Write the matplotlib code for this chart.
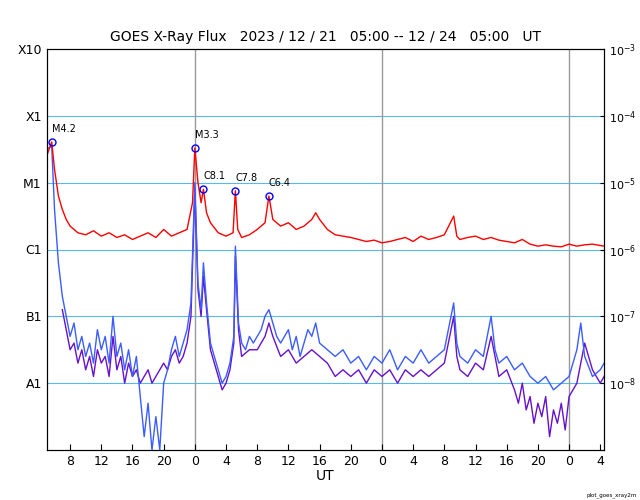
import matplotlib
matplotlib.use("Agg")
import matplotlib.pyplot as plt
import numpy as np

# hours since 2023-12-21 00:00 UT, log10 flux (W/m^2)
red_t = [5.0,5.64,6.0,6.5,7,7.5,8,9,10,11,12,13,14,15,16,17,18,19,20,21,22,23,23.7,24.0,24.4,24.8,25.1,25.5,26,27,28,28.9,29.2,29.5,30,31,32,33,33.5,34,35,36,37,38,39,39.5,40,41,42,43,44,45,46,47,48,49,50,51,52,53,54,55,56,57.2,57.6,58,59,60,61,62,63,64,65,66,67,68,69,70,71,72,73,74,75,76.5]
red_v = [-4.6,-4.39,-4.8,-5.2,-5.4,-5.55,-5.65,-5.75,-5.78,-5.72,-5.8,-5.75,-5.82,-5.78,-5.85,-5.8,-5.75,-5.82,-5.7,-5.8,-5.75,-5.7,-5.3,-4.48,-5.0,-5.3,-5.1,-5.45,-5.6,-5.75,-5.8,-5.75,-5.12,-5.7,-5.82,-5.78,-5.7,-5.6,-5.2,-5.55,-5.65,-5.6,-5.7,-5.65,-5.55,-5.45,-5.55,-5.7,-5.78,-5.8,-5.82,-5.85,-5.88,-5.86,-5.9,-5.88,-5.85,-5.82,-5.88,-5.8,-5.85,-5.82,-5.78,-5.5,-5.8,-5.85,-5.82,-5.8,-5.85,-5.82,-5.86,-5.88,-5.9,-5.85,-5.92,-5.95,-5.93,-5.95,-5.96,-5.92,-5.95,-5.93,-5.92,-5.95]

blue_t = [5.0,5.64,6,6.5,7,7.5,8,8.5,9,9.5,10,10.5,11,11.5,12,12.5,13,13.5,14,14.5,15,15.5,16,16.5,17,17.5,18,18.5,19,19.5,20,20.5,21,21.5,22,22.5,23,23.5,24.0,24.4,24.8,25.1,25.5,26,26.5,27,27.5,28,28.5,29.0,29.2,29.6,30,30.5,31,31.5,32,32.5,33,33.5,34,34.5,35,35.5,36,36.5,37,37.5,38,38.5,39,39.5,40,41,42,43,44,45,46,47,48,49,50,51,52,53,54,55,56,57.2,57.6,58,59,60,61,62,62.5,63,64,65,66,67,68,69,70,71,72,73,73.5,74,75,76,76.5]
blue_v = [-4.5,-4.45,-5.4,-6.2,-6.7,-7.0,-7.3,-7.1,-7.5,-7.3,-7.6,-7.4,-7.7,-7.2,-7.5,-7.3,-7.7,-7.0,-7.6,-7.4,-7.8,-7.5,-7.9,-7.6,-8.2,-8.8,-8.3,-9.0,-8.5,-9.0,-8.0,-7.8,-7.5,-7.3,-7.6,-7.4,-7.2,-6.8,-5.0,-6.5,-6.9,-6.2,-6.8,-7.4,-7.6,-7.8,-8.0,-7.9,-7.7,-7.3,-5.95,-7.1,-7.4,-7.5,-7.3,-7.4,-7.3,-7.2,-7.0,-6.9,-7.1,-7.3,-7.4,-7.3,-7.2,-7.5,-7.3,-7.6,-7.4,-7.2,-7.3,-7.1,-7.4,-7.5,-7.6,-7.5,-7.7,-7.6,-7.8,-7.6,-7.7,-7.5,-7.8,-7.6,-7.7,-7.5,-7.7,-7.6,-7.5,-6.8,-7.4,-7.6,-7.7,-7.5,-7.6,-7.0,-7.5,-7.7,-7.6,-7.8,-7.7,-7.9,-8.0,-7.9,-8.1,-8.0,-7.9,-7.5,-7.1,-7.6,-7.9,-7.8,-7.7]

purp_t = [7,7.5,8,8.5,9,9.5,10,10.5,11,11.5,12,12.5,13,13.5,14,14.5,15,15.5,16,16.5,17,17.5,18,18.5,19,19.5,20,20.5,21,21.5,22,22.5,23,23.5,24.0,24.4,24.8,25.1,25.5,26,26.5,27,27.5,28,28.5,29.0,29.2,29.6,30,31,32,33,33.5,34,35,36,37,38,39,40,41,42,43,44,45,46,47,48,49,50,51,52,53,54,55,56,57.2,57.6,58,59,60,61,62,63,64,65,65.5,66,66.5,67,67.5,68,68.5,69,69.5,70,70.5,71,71.5,72,73,73.5,74,75,76,76.5]
purp_v = [-6.9,-7.2,-7.5,-7.4,-7.7,-7.5,-7.8,-7.6,-7.9,-7.5,-7.7,-7.6,-7.9,-7.3,-7.8,-7.6,-8.0,-7.7,-7.9,-7.8,-8.0,-7.9,-7.8,-8.0,-7.9,-7.8,-7.7,-7.8,-7.6,-7.5,-7.7,-7.6,-7.4,-7.0,-5.1,-6.6,-7.0,-6.4,-6.9,-7.5,-7.7,-7.9,-8.1,-8.0,-7.8,-7.4,-6.1,-7.2,-7.6,-7.5,-7.5,-7.3,-7.1,-7.3,-7.6,-7.5,-7.7,-7.6,-7.5,-7.6,-7.7,-7.9,-7.8,-7.9,-7.8,-8.0,-7.8,-7.9,-7.8,-8.0,-7.8,-7.9,-7.8,-7.9,-7.8,-7.7,-7.0,-7.6,-7.8,-7.9,-7.7,-7.8,-7.3,-7.9,-7.8,-8.1,-8.3,-8.0,-8.4,-8.2,-8.6,-8.3,-8.5,-8.2,-8.8,-8.4,-8.6,-8.3,-8.7,-8.2,-8.0,-7.7,-7.4,-7.8,-8.0,-7.9]

flare_t = [5.64, 24.0, 25.1, 29.2, 33.5]
flare_v = [-4.39, -4.48, -5.1, -5.12, -5.2]
flare_lbl = ["M4.2", "M3.3", "C8.1", "C7.8", "C6.4"]

left_labels = ["X10", "X1", "M1", "C1", "B1", "A1"]
tick_hours = [8,12,16,20,24,28,32,36,40,44,48,52,56,60,64,68,72,76]
tick_lbls = ["8","12","16","20","0","4","8","12","16","20","0","4","8","12","16","20","0","4"]

fig = plt.figure(figsize=(6.4,5.0), dpi=100)
ax = fig.add_axes([0.073, 0.1, 0.871, 0.802])
xmin, xmax = 5.0, 76.5
ax.set_xlim(xmin, xmax)
ax.set_ylim(1e-9, 1e-3)
ax.set_yscale('log')
for e in [-4,-5,-6,-7,-8]:
    ax.axhline(10.0**e, color='#55bbee', lw=0.8, zorder=1)
for d in [24,48,72]:
    ax.axvline(d, color='#999999', lw=1.0, zorder=1)
ax.plot(purp_t, 10**np.array(purp_v), color='#6611cc', lw=1.0, zorder=2)
ax.plot(blue_t, 10**np.array(blue_v), color='#3b5cff', lw=1.0, zorder=3)
ax.plot(red_t, 10**np.array(red_v), color='#ff0000', lw=1.0, zorder=4)
ax.plot(flare_t, 10**np.array(flare_v), 'o', mfc='none', mec='#0000ff', ms=5, zorder=5)
for t, v, l in zip(flare_t, flare_v, flare_lbl):
    ax.text(t, 10**(v+0.12), l, fontsize=7, ha='left', va='bottom')

ax.set_yticks([10.0**e for e in [-3,-4,-5,-6,-7,-8]])
ax.set_yticklabels(left_labels, fontsize=9)
ax.minorticks_off()
ax.tick_params(axis='y', length=0)
ax2 = ax.twinx()
ax2.set_yscale('log'); ax2.set_ylim(1e-9,1e-3)
ax2.set_yticks([10.0**e for e in [-3,-4,-5,-6,-7,-8]])
ax2.set_yticklabels([r'$10^{%d}$' % e for e in [-3,-4,-5,-6,-7,-8]], fontsize=8)
ax2.minorticks_off()
ax2.tick_params(axis='y', length=3, direction='in')
ax.set_xticks(tick_hours)
ax.set_xticklabels(tick_lbls, fontsize=9)
ax.tick_params(axis='x', length=4, direction='in')
ax.set_xlabel("UT", fontsize=10, labelpad=1)
ax.set_title("GOES X-Ray Flux   2023 / 12 / 21   05:00 -- 12 / 24   05:00   UT", fontsize=10)
fig.text(0.995, 0.005, "plot_goes_xray2m", fontsize=4, ha='right', va='bottom')
fig.savefig("out.png", dpi=100)
